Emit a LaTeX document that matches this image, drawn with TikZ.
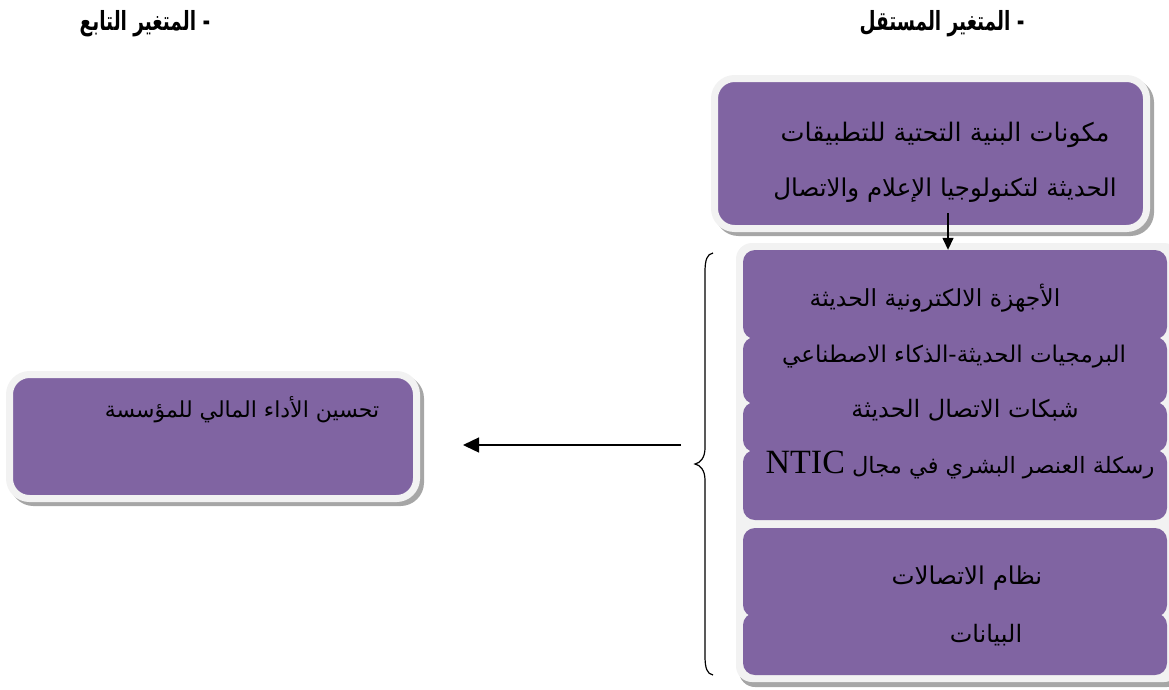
\documentclass[tikz,border=0pt]{standalone}
\usepackage{fontspec}
\TeXXeTstate=1
\newfontfamily\arabicfont[Script=Arabic]{DejaVu Sans}
\newfontfamily\latinserif{Liberation Serif}
\usetikzlibrary{arrows.meta,shadows}
\definecolor{boxpurple}{HTML}{8064A2}
\definecolor{rimgray}{HTML}{F2F2F2}
\definecolor{shadowgray}{HTML}{A6A6A6}
\begin{document}
\begin{tikzpicture}[x=1pt,y=-1pt,
  purplebox/.style={fill=boxpurple, draw=rimgray, line width=7pt, rounded corners=20pt, inner sep=0pt,
     drop shadow={shadow xshift=4pt, shadow yshift=-4pt, fill=shadowgray, draw=shadowgray, line width=7pt, opacity=1}},
  stackrim/.style={fill=rimgray, rounded corners=16pt, inner sep=0pt,
     drop shadow={shadow xshift=3pt, shadow yshift=-5pt, fill=shadowgray, opacity=1}},
  area/.style={inner sep=0pt, minimum width=424pt},
  boxtext/.style={inner sep=0pt, font=\arabicfont\fontsize{#1}{#1}\selectfont},
  headtext/.style={inner sep=0pt, font=\arabicfont\bfseries\fontsize{22}{24}\selectfont},
  conn/.style={line width=1.4pt}
]
\useasboundingbox (0,0) rectangle (1169,689);

% headers
\node[headtext] (hind) at (942,24) {\scalebox{0.84}[1.2]{\beginR - المتغير المستقل\endR}};
\node[headtext] (hdep) at (145,24) {\scalebox{0.84}[1.2]{\beginR - المتغير التابع\endR}};

% top box
\node[purplebox, minimum width=432pt, minimum height=150pt] (top) at (930.5,153.5) {};
\node[boxtext=25.5] (topA) at (945,135) {\beginR مكونات البنية التحتية للتطبيقات\endR};
\node[boxtext=24.5] (topB) at (945,190) {\beginR الحديثة لتكنولوجيا الإعلام والاتصال\endR};

% left box
\node[purplebox, minimum width=407pt, minimum height=124pt] (res) at (213,436.5) {};
\node[boxtext=22] (resT) at (242,410) {\beginR تحسين الأداء المالي للمؤسسة\endR};

% stack backing
\node[stackrim, minimum width=444pt, minimum height=439pt] (stack) at (958,462.5) {};

% stacked purple boxes (top corners rounded, bottom square unless last of group)
\fill[boxpurple, rounded corners=12pt] (743,250) rectangle (1167,339);
\fill[boxpurple] (743,300) rectangle (1167,327);
\fill[boxpurple, rounded corners=12pt] (743,337) rectangle (1167,404);
\fill[boxpurple] (743,370) rectangle (1167,392);
\fill[boxpurple, rounded corners=12pt] (743,402) rectangle (1167,452);
\fill[boxpurple] (743,420) rectangle (1167,440);
\fill[boxpurple, rounded corners=12pt] (743,450) rectangle (1167,520);
\fill[boxpurple, rounded corners=12pt] (743,528) rectangle (1167,617);
\fill[boxpurple] (743,580) rectangle (1167,605);
\fill[boxpurple, rounded corners=12pt] (743,613) rectangle (1167,675);

% box areas
\node[area, minimum height=77pt] (b1) at (955,288.5) {};
\node[area, minimum height=55pt] (b2) at (955,364.5) {};
\node[area, minimum height=38pt] (b3) at (955,421) {};
\node[area, minimum height=70pt] (b4) at (955,485) {};
\node[area, minimum height=77pt] (b5) at (955,566.5) {};
\node[area, minimum height=62pt] (b6) at (955,644) {};

\node[boxtext=23.5] (b1t) at (935,298) {\beginR الأجهزة الالكترونية الحديثة\endR};
\node[boxtext=23] (b2t) at (954,357) {\beginR البرمجيات الحديثة-الذكاء الاصطناعي\endR};
\node[boxtext=24] (b3t) at (965,410) {\beginR شبكات الاتصال الحديثة\endR};
\node[boxtext=22.5] (b4t) at (960,465) {\beginR رسكلة العنصر البشري في مجال {\latinserif\fontsize{34}{36}\selectfont\beginL NTIC\endL}\endR};
\node[boxtext=24.5] (b5t) at (967,578) {\beginR نظام الاتصالات\endR};
\node[boxtext=24] (b6t) at (986,635) {\beginR البيانات\endR};

% down arrow
\coordinate (dstart) at (948,213);
\draw[conn, -{Triangle[length=12pt,width=11pt]}] (dstart) -- (dstart |- b1.north);

% brace
\draw[line width=1.2pt] (713,253) .. controls (707,254) and (705,260) .. (705,272) -- (705,448)
  .. controls (705,458) and (700,463) .. (695,464)
  .. controls (700,465) and (705,470) .. (705,480) -- (705,656)
  .. controls (705,668) and (707,674) .. (713,675);

% left arrow
\coordinate (bracefrom) at (681,445);
\coordinate (arrowtip) at (463,445);
\draw[conn, -{Triangle[length=16pt,width=15pt]}] (bracefrom) -- (arrowtip);
\end{tikzpicture}
\end{document}
